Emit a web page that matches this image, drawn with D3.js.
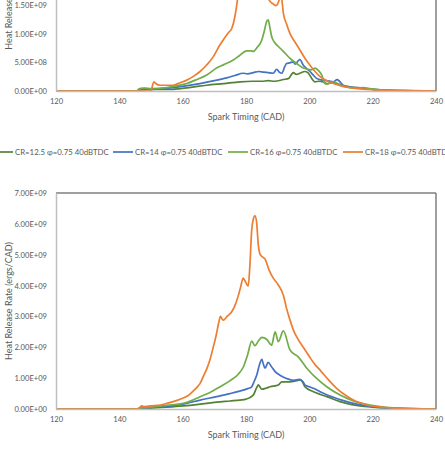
<!DOCTYPE html>
<html><head><meta charset="utf-8">
<script src="https://cdn.jsdelivr.net/npm/d3@7"></script>
<style>body{margin:0;background:#fff}svg{display:block}text{font-family:Lato,"Open Sans",sans-serif;fill:#595959}</style>
</head><body><svg id="c" width="445" height="459"></svg>
<script>
// Values in units of 1E+09 ergs/CAD, CAD positions
const seriesNames = ["CR=12.5 \u03c6=0.75 40dBTDC","CR=14 \u03c6=0.75 40dBTDC","CR=16 \u03c6=0.75 40dBTDC","CR=18 \u03c6=0.75 40dBTDC"];
const seriesColors = ["#548235","#4472C4","#70AD47","#ED7D31"];
const xTicks = [120,140,160,180,200,220,240];
const topYTicks = [0,0.5,1.0,1.5];
const botYTicks = [0,1,2,3,4,5,6,7];

// Top chart
const topCad125 = [120,145.5,146.5,148,150,157,162,167.6,173,178.1,182,185,187,189,191.8,193.5,194.5,194.9,195.9,197,198.6,199.5,200.2,201,201.8,203,204.4,205.5,206.5,207.6,209,210.7,213,217,220,225,240];
const topVal125 = [0,0,0.04,0.04,0.03,0.03,0.06,0.1,0.13,0.16,0.17,0.17,0.18,0.17,0.2,0.22,0.3,0.32,0.29,0.31,0.34,0.32,0.27,0.2,0.16,0.17,0.16,0.13,0.14,0.15,0.12,0.09,0.07,0.05,0.03,0.01,0];
const topCad14 = [120,145.5,147,150,157,161,165.5,170,173.9,176.5,179.1,180.5,182.3,184,185.5,187,188.6,189.7,190.5,191.3,192.2,192.8,193.8,194.9,195.5,196.4,197,198.1,199,200.2,201.2,202.3,204,205.5,207.6,208.8,209.5,210.7,213,216,220,225,240];
const topVal14 = [0,0,0.02,0.03,0.06,0.09,0.13,0.18,0.23,0.27,0.31,0.3,0.32,0.34,0.33,0.32,0.31,0.38,0.33,0.31,0.42,0.48,0.49,0.51,0.47,0.52,0.55,0.45,0.4,0.34,0.28,0.22,0.19,0.18,0.16,0.2,0.17,0.1,0.07,0.05,0.03,0.01,0];
const topCad16 = [120,145.5,146.5,148,150,155,158,161.3,164,167.6,170.7,173,176,178,180.2,181.5,182.3,183.5,185,185.8,186.5,187,187.5,188.1,189,190.7,192.5,193.9,196,198.1,200.7,201.8,203,203.9,204.9,205.5,207.6,210,212.8,215,217,219,223.4,230,240];
const topVal16 = [0,0,0.04,0.05,0.04,0.06,0.09,0.13,0.19,0.28,0.4,0.46,0.54,0.62,0.7,0.7,0.69,0.76,0.89,1.05,1.21,1.24,1.12,0.95,0.85,0.75,0.65,0.57,0.48,0.4,0.37,0.4,0.35,0.28,0.13,0.12,0.16,0.1,0.06,0.05,0.06,0.04,0.015,0.005,0];
const topCad18 = [120,150,150.4,150.9,151.5,152.8,157,159,161.3,163.5,165.5,167.5,169.7,171.5,172.8,174.5,175.5,176.5,177.3,178,179,180,181,182,183,184,185,186,187,188.5,189.5,190.3,190.9,191.3,191.8,192.8,193.9,195.5,197,198.5,200.2,201.8,203.4,205.5,207.6,210.5,213.9,218,222,230,240];
const topVal18 = [0,0,0.08,0.16,0.13,0.1,0.1,0.14,0.19,0.26,0.34,0.45,0.6,0.78,0.89,1.02,1.09,1.3,1.59,1.95,2.35,2.6,2.8,2.9,2.8,2.4,2.0,1.8,1.62,1.52,1.49,1.56,1.7,1.6,1.36,1.17,1.0,0.85,0.72,0.58,0.45,0.34,0.25,0.18,0.13,0.08,0.05,0.03,0.015,0.005,0];

// Bottom chart
const botCad125 = [120,145.5,147,150,155,160.2,165,170.7,175,178.1,180,182.3,183.4,183.9,185,186.5,187.6,190.2,191.3,193.9,196,197,198,198.6,201.3,203.5,205.5,209.7,213,216,220,226,240];
const botVal125 = [0,0,0.02,0.03,0.06,0.1,0.15,0.22,0.26,0.29,0.32,0.45,0.7,0.78,0.64,0.68,0.72,0.78,0.88,0.88,0.92,0.94,0.85,0.72,0.56,0.47,0.4,0.24,0.15,0.1,0.06,0.02,0];
const botCad14 = [120,145.5,147,150,155,160.2,165.5,170.7,175,178,180.5,181.8,182.6,183.4,184.3,185,185.5,186,187,188,189.2,191,192.8,195,197,198,198.6,200,201.3,203.4,205.5,207.6,210.5,213.9,218,222,228,240];
const botVal14 = [0,0,0.03,0.05,0.09,0.16,0.29,0.4,0.5,0.58,0.66,0.72,0.9,1.1,1.45,1.61,1.45,1.32,1.51,1.38,1.21,1.08,0.99,0.93,0.96,0.88,0.78,0.72,0.67,0.56,0.46,0.38,0.28,0.18,0.1,0.05,0.02,0];
const botCad16 = [120,145.5,147,150,155,160.2,163,165.5,168.5,171.8,175,177.5,179.2,180.5,181.8,182.8,184,185,186.5,188.1,189.2,190.2,191.8,193.9,196.5,199.2,202.3,205.5,209.7,213.9,219.2,226.5,232,240];
const botVal16 = [0,0,0.04,0.06,0.12,0.18,0.28,0.4,0.53,0.72,0.92,1.12,1.37,1.75,2.2,2.05,2.22,2.32,2.26,2.07,2.5,2.18,2.53,1.91,1.69,1.32,0.99,0.72,0.45,0.26,0.13,0.04,0.01,0];
const botCad18 = [120,145.5,146.5,147,148,150,153,155,158,160,161.5,163,164.5,165.5,166.5,167.6,168.6,169.7,170.5,171.5,171.9,172.8,174,175.5,176.5,177.5,178.3,179.1,179.7,180.7,181.2,181.8,182.3,182.8,183.3,183.9,184.5,185.3,186,187.3,188.6,190.2,191.8,192.8,193.9,195,196.5,198.1,200,201.7,203.4,206,208.6,211.8,213.9,216,218,221,225,230,235,240];
const botVal18 = [0,0,0.05,0.1,0.08,0.1,0.13,0.18,0.27,0.35,0.42,0.55,0.7,0.83,1.05,1.3,1.59,2.02,2.35,2.85,3.0,2.88,3.0,3.15,3.35,3.65,3.95,4.24,4.15,3.98,4.6,5.8,6.15,6.26,6.1,5.3,5.0,4.92,4.86,4.5,4.24,4.02,3.69,3.26,2.88,2.55,2.25,2.0,1.7,1.45,1.26,0.95,0.67,0.42,0.29,0.2,0.13,0.08,0.04,0.015,0.005,0];

const topSeries = [[topCad125,topVal125],[topCad14,topVal14],[topCad16,topVal16],[topCad18,topVal18]];
const botSeries = [[botCad125,botVal125],[botCad14,botVal14],[botCad16,botVal16],[botCad18,botVal18]];

function sci(v){ // v in 1e9 units
  const s = d3.format(".2e")(v*1e9);
  const m = s.split("e");
  let ex = parseInt(m[1],10);
  const sign = ex<0?"-":"+";
  ex = Math.abs(ex);
  return m[0]+"E"+sign+(ex<10?"0":"")+ex;
}

const svg = d3.select("#c");
const tickFont = "7.6px", titleFont = "9px", legFont = "7.8px";

function drawChart(cfg){
  const g = svg.append("g");
  const x = d3.scaleLinear().domain([120,240]).range([56,436]);
  const y = d3.scaleLinear().domain([0,cfg.ymax]).range([cfg.y0,cfg.yTop]);
  g.append("line").attr("x1",56).attr("x2",436).attr("y1",cfg.yTop).attr("y2",cfg.yTop).attr("stroke","#404040").attr("stroke-width",1.2);
  g.append("line").attr("x1",436).attr("x2",436).attr("y1",cfg.yTop).attr("y2",cfg.y0).attr("stroke","#7f7f7f").attr("stroke-width",1.5);
  const line = d3.line().x(d=>x(d[0])).y(d=>y(d[1])).curve(d3.curveMonotoneX);
  cfg.series.forEach((s,i)=>{
    const pts = s[0].map((c,k)=>[c,s[1][k]]);
    g.append("path").attr("d",line(pts)).attr("fill","none").attr("stroke",seriesColors[i]).attr("stroke-width",1.7).attr("stroke-linejoin","round");
  });
  const xa = g.append("g").attr("transform",`translate(0,${cfg.y0})`).call(d3.axisBottom(x).tickValues(xTicks).tickSize(0).tickPadding(8));
  xa.select(".domain").attr("stroke","#bfbfbf").attr("stroke-width",1.5);
  xa.selectAll("text").style("font-size",tickFont).style("fill","#595959").style("font-family","Lato");
  const ya = g.append("g").attr("transform","translate(56,0)").call(d3.axisLeft(y).tickValues(cfg.yticks).tickFormat(sci).tickSize(0).tickPadding(9));
  ya.select(".domain").attr("stroke","#bfbfbf").attr("stroke-width",1.5);
  ya.selectAll("text").style("font-size",tickFont).style("fill","#595959").style("font-family","Lato");
  g.append("text").attr("x",246).attr("y",cfg.y0+29).attr("text-anchor","middle").style("font-size",titleFont).text("Spark Timing (CAD)");
  g.append("text").attr("transform",`translate(12,${(cfg.y0+cfg.yTop)/2}) rotate(-90)`).attr("text-anchor","middle").style("font-size",titleFont).text("Heat Release Rate (ergs/CAD)");
  const lx = [-7,113,228,343];
  const lg = g.append("g").attr("transform",`translate(0,${cfg.legY})`);
  seriesNames.forEach((n,i)=>{
    lg.append("line").attr("x1",lx[i]).attr("x2",lx[i]+20).attr("y1",0).attr("y2",0).attr("stroke",seriesColors[i]).attr("stroke-width",1.7);
    lg.append("text").attr("x",lx[i]+22).attr("y",2.8).style("font-size",legFont).text(n);
  });
}

drawChart({series:topSeries, ymax:3.5, y0:91, yTop:91-3.5*57.3, yticks:topYTicks, legY:152});
drawChart({series:botSeries, ymax:7, y0:409, yTop:193, yticks:botYTicks, legY:470});
</script></body></html>
